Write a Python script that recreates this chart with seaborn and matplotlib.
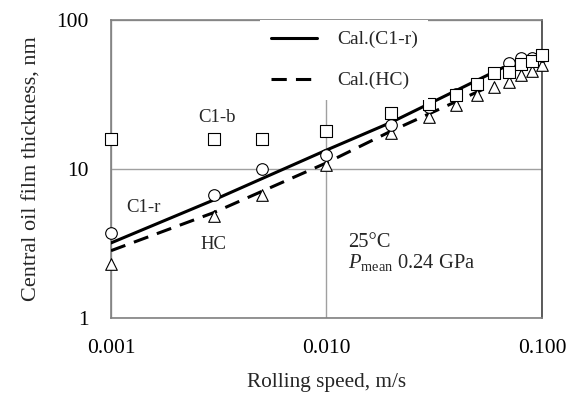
import pandas as pd
import seaborn as sns
import matplotlib.pyplot as plt

# measured film thickness vs rolling speed
speed = [0.001, 0.003, 0.005, 0.01, 0.02, 0.03, 0.04, 0.05, 0.06, 0.07, 0.08, 0.09, 0.1]
c1b = [16, 16, 16, 18, 23.8, 27.3, 31.4, 37, 44, 45, 51, 53, 58]
c1r = [3.7, 6.7, 10, 12.4, 19.7, 26, 32, 37, 44, 51.5, 56, 56, 57]
hc = [2.3, 4.8, 6.7, 10.6, 17.4, 22.3, 27, 31.4, 35.6, 38.4, 43, 45.5, 50]

# calculated curves
cal_c1r_speed = [0.001, 0.003, 0.01, 0.02, 0.066]
cal_c1r = [3.19, 6.2, 13.4, 20.6, 48]
cal_hc_speed = [0.001, 0.003, 0.01, 0.02, 0.03, 0.055]
cal_hc = [2.83, 5.1, 11.0, 18.0, 23.5, 35]

x_ticks = [0.001, 0.01, 0.1]
x_tick_labels = ["0.001", "0.010", "0.100"]
y_ticks = [1, 10, 100]
y_tick_labels = ["1", "10", "100"]

sns.set_theme(style="white")
plt.rcParams['font.family'] = ['Liberation Serif', 'DejaVu Serif']
plt.rcParams['mathtext.fontset'] = 'custom'
plt.rcParams['mathtext.rm'] = 'Liberation Serif'
plt.rcParams['mathtext.it'] = 'Liberation Serif:italic'

fig = plt.figure(figsize=(5.73, 3.94), dpi=100)
ax = fig.add_axes([0.1937, 0.1929, 0.7522, 0.7563])

df_meas = pd.DataFrame({'speed': speed, 'c1b': c1b, 'c1r': c1r, 'hc': hc})
df_cr = pd.DataFrame({'speed': cal_c1r_speed, 'h': cal_c1r})
df_ch = pd.DataFrame({'speed': cal_hc_speed, 'h': cal_hc})

sns.lineplot(data=df_cr, x='speed', y='h', ax=ax, color='black', lw=2.2,
             label='Cal.(C1-r)', zorder=3)
sns.lineplot(data=df_ch, x='speed', y='h', ax=ax, color='black', lw=2.2,
             dashes=False, label='Cal.(HC)', zorder=3)
ax.lines[1].set_dashes([5, 3])

mk = dict(facecolor='white', edgecolor='black', linewidth=0.8, s=70, legend=False,
          clip_on=False, ax=ax)
sns.scatterplot(data=df_meas, x='speed', y='hc', marker='^', zorder=4, **mk)
sns.scatterplot(data=df_meas, x='speed', y='c1r', marker='o', zorder=5, **mk)
sns.scatterplot(data=df_meas, x='speed', y='c1b', marker='s', zorder=6, **mk)

ax.set_xscale('log')
ax.set_yscale('log')
ax.set_xlim(0.001, 0.1)
ax.set_ylim(1, 100)
ax.set_xticks(x_ticks)
ax.set_xticklabels(x_tick_labels)
ax.set_yticks(y_ticks)
ax.set_yticklabels(y_tick_labels)
ax.minorticks_off()
ax.tick_params(axis='both', length=0, labelsize=15.5, colors='black')
ax.tick_params(axis='x', pad=15)
ax.tick_params(axis='y', pad=16)
ax.grid(True, color='#a0a0a0', lw=1)

for s in ['left', 'bottom', 'top']:
    ax.spines[s].set_color('#808080')
ax.spines['right'].set_color('#404040')
for s in ax.spines.values():
    s.set_linewidth(1.2)

ax.set_xlabel("Rolling speed, m/s", fontsize=15.3, labelpad=11)
ax.set_ylabel("Central oil film thickness, nm", fontsize=16, labelpad=11)

ax.text(0.0031, 22, "C1-b", fontsize=13.5, ha='center', va='center')
ax.text(0.00142, 5.5, "C1-r", fontsize=13.5, ha='center', va='center')
ax.text(0.0030, 3.09, "HC", fontsize=13.5, ha='center', va='center')
ax.text(0.0126, 3.2, "25°C", fontsize=14.8, ha='left', va='center')
ax.text(0.0126, 2.35, r"$P_{\mathrm{mean}}$ 0.24 GPa", fontsize=14.8, ha='left', va='center')

leg = ax.legend(loc='upper left', bbox_to_anchor=(0.346, 1.0), borderaxespad=0,
                fontsize=14, handlelength=2.4, handletextpad=1.0, labelspacing=1.2,
                frameon=True, framealpha=1, facecolor='white', edgecolor='none',
                fancybox=False, borderpad=0.55)
leg.set_zorder(10)

plt.savefig("out.png", dpi=100)
